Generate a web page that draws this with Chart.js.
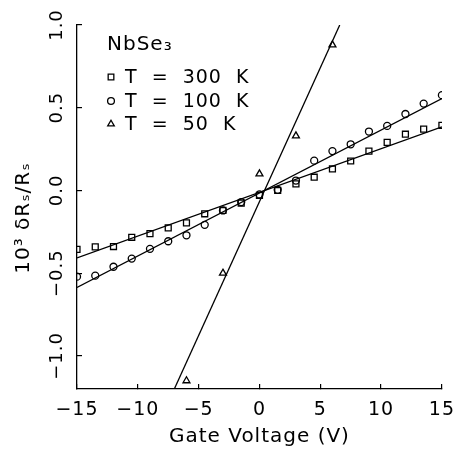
<!DOCTYPE html>
<html>
<head>
<meta charset="utf-8">
<script src="https://cdn.jsdelivr.net/npm/chart.js@4/dist/chart.umd.min.js"></script>
<style>
  html, body { margin: 0; padding: 0; background: #fff; }
  #wrap { width: 469px; height: 451px; }
</style>
</head>
<body>
<div id="wrap"><canvas id="nbse3"></canvas></div>
<script>
// data (gate voltage in V, 10^3 dRs/Rs)
const gate = [-15, -13.5, -12, -10.5, -9, -7.5, -6, -4.5, -3, -1.5, 0, 1.5, 3, 4.5, 6, 7.5, 9, 10.5, 12, 13.5, 15];
const t300 = [-0.356, -0.341, -0.339, -0.283, -0.261, -0.226, -0.196, -0.141, -0.121, -0.077, -0.03, 0.0, 0.04, 0.08, 0.13, 0.178, 0.238, 0.291, 0.34, 0.371, 0.394];
const t100 = [-0.521, -0.515, -0.461, -0.412, -0.353, -0.307, -0.271, -0.208, -0.121, -0.07, -0.024, 0.004, 0.06, 0.18, 0.238, 0.279, 0.356, 0.39, 0.462, 0.525, 0.576];
const gate50 = [-6, -3, 0, 3, 6];
const t50 = [-1.15, -0.50, 0.10, 0.33, 0.88];

// straight fit lines (end points)
const fit300X = [-15, 15], fit300Y = [-0.408, 0.384];
const fit100X = [-15, 15], fit100Y = [-0.586, 0.556];
const fit50X = [-7.0, 6.6], fit50Y = [-1.2, 1.0];

const xTicks = [-15, -10, -5, 0, 5, 10, 15];
const yTicks = [-1.0, -0.5, 0.0, 0.5, 1.0];
const legendNames = ["T  =  300  K", "T  =  100  K", "T  =  50  K"];
const sample = "NbSe₃";

const FONT = "'DejaVu Sans', sans-serif";
const ink = "#000";

function pts(xs, ys) {
  return xs.map(function (x, i) { return { x: x, y: ys[i] }; });
}
function minus(v, d) {
  let s = d ? Math.abs(v).toFixed(d) : String(Math.abs(v));
  return (v < 0 ? "−" : "") + s;
}

const markerSet = {
  borderColor: ink,
  backgroundColor: "rgba(0,0,0,0)",
  borderWidth: 1.3,
  showLine: false,
};
const fitSet = {
  showLine: true,
  borderColor: ink,
  borderWidth: 1.3,
  pointRadius: 0,
  fill: false,
};

// rotated y tick labels + legend block
const extras = {
  id: "extras",
  beforeDraw: function (chart) {
    chart.ctx.letterSpacing = "1px";
  },
  afterDraw: function (chart) {
    const ctx = chart.ctx;
    const ys = chart.scales.y;
    ctx.save();
    ctx.fillStyle = ink;
    ctx.font = "18px " + FONT;
    ctx.textAlign = "center";
    ctx.textBaseline = "middle";
    yTicks.forEach(function (v) {
      ctx.save();
      ctx.translate(57, ys.getPixelForValue(v));
      ctx.rotate(-Math.PI / 2);
      ctx.fillText(minus(v, 1), 0, 0);
      ctx.restore();
    });

    ctx.textAlign = "left";
    ctx.font = "20px " + FONT;
    ctx.fillText(sample, 107, 45);

    ctx.font = "19px " + FONT;
    const rowY = [77, 101, 124];
    const styles = ["rect", "circle", "triangle"];
    const sizes = [4.0, 3.4, 3.8];
    rowY.forEach(function (y, i) {
      ctx.save();
      ctx.strokeStyle = ink;
      ctx.fillStyle = "rgba(0,0,0,0)";
      ctx.lineWidth = 1.3;
      Chart.helpers.drawPoint(ctx, { pointStyle: styles[i], radius: sizes[i], borderWidth: 1.3 }, 111, y);
      ctx.restore();
      ctx.fillText(legendNames[i], 125, y + 1);
    });
    ctx.restore();
  },
};

new Chart(document.getElementById("nbse3"), {
  type: "scatter",
  data: {
    datasets: [
      Object.assign({ label: "T = 300 K", data: pts(gate, t300), pointStyle: "rect", pointRadius: 4.2 }, markerSet),
      Object.assign({ label: "T = 100 K", data: pts(gate, t100), pointStyle: "circle", pointRadius: 3.5 }, markerSet),
      Object.assign({ label: "T = 50 K", data: pts(gate50, t50), pointStyle: "triangle", pointRadius: 4.0 }, markerSet),
      Object.assign({ label: "fit 300", data: pts(fit300X, fit300Y) }, fitSet),
      Object.assign({ label: "fit 100", data: pts(fit100X, fit100Y) }, fitSet),
      Object.assign({ label: "fit 50", data: pts(fit50X, fit50Y) }, fitSet),
    ],
  },
  options: {
    responsive: true,
    maintainAspectRatio: false,
    animation: false,
    layout: { padding: { left: 0, top: 25, right: 14, bottom: 0 } },
    plugins: {
      legend: { display: false },
      tooltip: { enabled: false },
    },
    scales: {
      x: {
        type: "linear",
        min: -15,
        max: 15,
        afterFit: function (s) { s.height = 62; },
        afterBuildTicks: function (s) { s.ticks = xTicks.map(function (v) { return { value: v }; }); },
        border: { display: true, color: ink, width: 1.3 },
        grid: { drawOnChartArea: false, drawTicks: true, tickLength: -5, color: ink, lineWidth: 1.2 },
        ticks: {
          color: ink,
          font: { family: FONT, size: 19 },
          padding: 15,
          maxRotation: 0,
          callback: function (v) { return minus(v); },
        },
        title: {
          display: true,
          text: "Gate Voltage (V)",
          color: ink,
          font: { family: FONT, size: 20 },
          padding: { top: 0, bottom: 2 },
        },
      },
      y: {
        type: "linear",
        min: -1.2,
        max: 1.0,
        afterFit: function (s) { s.width = 77; },
        afterBuildTicks: function (s) { s.ticks = yTicks.map(function (v) { return { value: v }; }); },
        border: { display: true, color: ink, width: 1.3 },
        grid: { drawOnChartArea: false, drawTicks: true, tickLength: -5, color: ink, lineWidth: 1.2 },
        ticks: { display: false },
        title: {
          display: true,
          text: "10³ δRₛ/Rₛ   ",
          color: ink,
          font: { family: FONT, size: 20 },
          padding: { top: 12, bottom: 0 },
        },
      },
    },
  },
  plugins: [extras],
});
</script>
</body>
</html>
